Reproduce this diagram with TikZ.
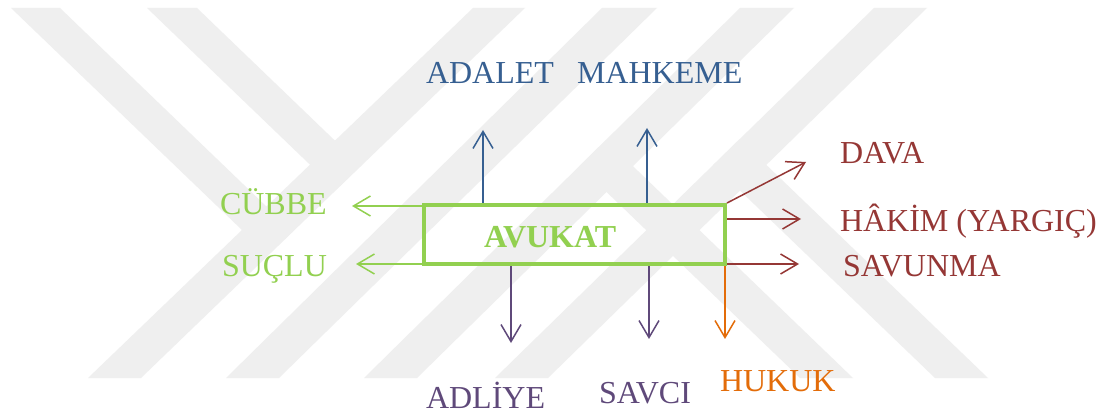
\documentclass[tikz,border=0pt]{standalone}
\usepackage{fontspec}
\setmainfont{Liberation Serif}
\usetikzlibrary{arrows.meta}
\definecolor{cgreen}{HTML}{92D050}
\definecolor{cblue}{HTML}{365F91}
\definecolor{cred}{HTML}{953735}
\definecolor{cpurple}{HTML}{5F497A}
\definecolor{corange}{HTML}{E36C09}
\definecolor{cwm}{HTML}{EFEFEF}
\begin{document}
\begin{tikzpicture}[x=1pt,y=-1pt,
  lbl/.style={anchor=base west,inner sep=0pt,outer sep=0pt,font=\fontsize{32pt}{38pt}\selectfont},
  arr/.style={line width=1.5pt,-{Straight Barb[length=17pt,width=20pt]}},
  wm/.style={fill=cwm,draw=none},
  boxstyle/.style={draw=cgreen,line width=4pt,minimum width=301.5pt,minimum height=59.5pt,inner sep=0pt}]
\useasboundingbox (0,0) rectangle (1104,414);
\fill[white] (0,0) rectangle (1104,414);
% watermark
\fill[wm] (473,8)--(525,8)--(141,378)--(88,378)--cycle;
\fill[wm] (602,8)--(657,8)--(279,378)--(226,378)--cycle;
\fill[wm] (740,8)--(794,8)--(417,378)--(364,378)--cycle;
\fill[wm] (874,8)--(927,8)--(548,378)--(495,378)--cycle;
\fill[wm] (11,8)--(60,8)--(292.5,231.6)--(268,255)--cycle;
\fill[wm] (147,8)--(197,8)--(361,165.7)--(336,189.7)--cycle;
\fill[wm] (579.5,166)--(606,140.2)--(853,378)--(800,378)--cycle;
\fill[wm] (713.3,164.9)--(739.6,139.2)--(988,378)--(935,378)--cycle;
% box
\node[boxstyle] (box) at (574.25,234.75) {};
\node[lbl,text=cgreen,font=\bfseries\fontsize{32pt}{38pt}\selectfont] (avukat) at (484,248) {AVUKAT};
% labels
\node[lbl,text=cblue] (adalet) at (426,84) {ADALET};
\node[lbl,text=cblue] (mahkeme) at (577,84) {MAHKEME};
\node[lbl,text=cred] (dava) at (840,164) {DAVA};
\node[lbl,text=cred] (hakim) at (840,232) {HÂKİM (YARGIÇ)};
\node[lbl,text=cred] (savunma) at (843,277) {SAVUNMA};
\node[lbl,text=cgreen] (cubbe) at (220,215) {CÜBBE};
\node[lbl,text=cgreen] (suclu) at (222,277) {SUÇLU};
\node[lbl,text=cpurple] (adliye) at (426,408) {ADLİYE};
\node[lbl,text=cpurple] (savci) at (599,403) {SAVCI};
\node[lbl,text=corange] (hukuk) at (720,391) {HUKUK};
% arrow tips
\coordinate (tAdalet) at (483,130);
\coordinate (tMahkeme) at (647,128);
\coordinate (tDava) at (806,162);
\coordinate (tHakim) at (801,219);
\coordinate (tSavunma) at (799,264);
\coordinate (tCubbe) at (352,206);
\coordinate (tSuclu) at (356,264);
\coordinate (tAdliye) at (511,343);
\coordinate (tSavci) at (649,339);
\coordinate (tHukuk) at (725,339);
% connectors
\draw[arr,cblue] (tAdalet |- box.north) -- (tAdalet);
\draw[arr,cblue] (tMahkeme |- box.north) -- (tMahkeme);
\draw[arr,cred] (box.north east) -- (tDava);
\draw[arr,cred] (box.east |- tHakim) -- (tHakim);
\draw[arr,cred] (box.east |- tSavunma) -- (tSavunma);
\draw[arr,cgreen] (box.west |- tCubbe) -- (tCubbe);
\draw[arr,cgreen] (box.west |- tSuclu) -- (tSuclu);
\draw[arr,cpurple] (tAdliye |- box.south) -- (tAdliye);
\draw[arr,cpurple] (tSavci |- box.south) -- (tSavci);
\draw[arr,corange] (tHukuk |- box.south) -- (tHukuk);
\end{tikzpicture}
\end{document}
